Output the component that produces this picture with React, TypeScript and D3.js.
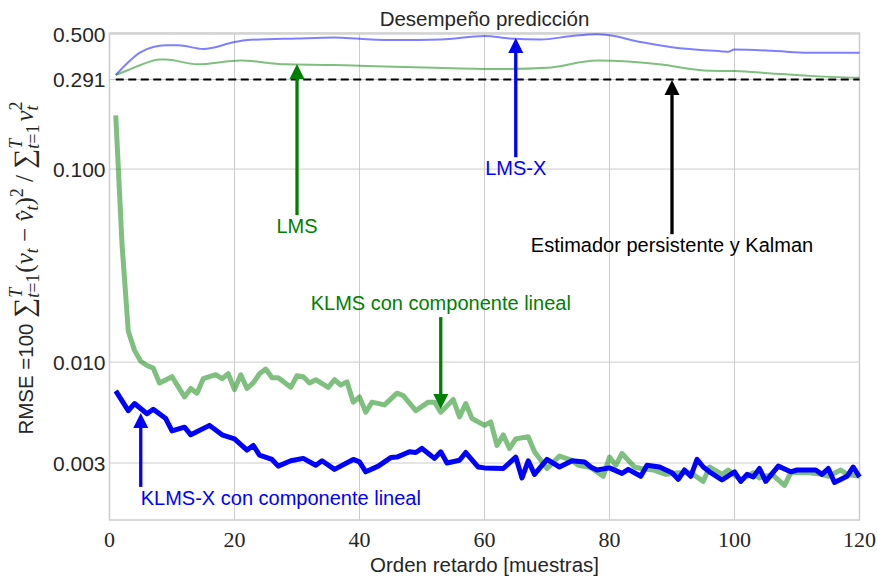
import React from "react";
import * as d3 from "d3";

const X_TICKS = [0, 20, 40, 60, 80, 100, 120];
const Y_TICKS = [0.003, 0.01, 0.1, 0.291, 0.5];
const Y_TICK_LABELS = ["0.003", "0.010", "0.100", "0.291", "0.500"];

const BASELINE = 0.291;

const LMSX_X = [1, 3, 5, 9, 11, 15, 20, 22, 30, 36, 40, 46, 53, 60, 64, 69, 74, 78, 80, 85, 90, 98, 99, 100, 106, 112, 120];
const LMSX_V = [0.307, 0.358, 0.404, 0.438, 0.438, 0.419, 0.455, 0.466, 0.475, 0.48, 0.473, 0.466, 0.469, 0.489, 0.475, 0.469, 0.489, 0.499, 0.493, 0.455, 0.428, 0.407, 0.405, 0.416, 0.41, 0.4, 0.4];

const LMS_X = [1, 3, 5, 8, 9, 14, 21, 28, 36, 41, 52, 63, 70, 78, 83, 88, 96, 100, 106, 112, 120];
const LMS_V = [0.307, 0.326, 0.346, 0.37, 0.37, 0.349, 0.365, 0.349, 0.346, 0.342, 0.335, 0.33, 0.335, 0.365, 0.361, 0.349, 0.323, 0.322, 0.313, 0.304, 0.297];

const KLMS_X = [1, 2, 3, 4, 5, 6, 7, 8, 10, 12, 13, 14, 15, 17, 18, 19, 20, 21, 22, 23, 24, 25, 26, 27, 29, 30, 31, 32, 33, 35, 36, 37, 38, 39, 40, 41, 42, 44, 46, 47, 49, 51, 52, 53, 55, 56, 57, 58, 60, 61, 62, 63, 64, 65, 67, 68, 70, 72, 74, 75, 77, 79, 80, 81, 82, 84, 85, 87, 89, 91, 93, 95, 96, 98, 99, 101, 103, 104, 106, 108, 109, 112, 114, 115, 117, 118, 120];
const KLMS_V = [0.19, 0.041, 0.0145, 0.0115, 0.0101, 0.0096, 0.0093, 0.0078, 0.0084, 0.0066, 0.0073, 0.0069, 0.0082, 0.0086, 0.0082, 0.0087, 0.0072, 0.0086, 0.0073, 0.0078, 0.0087, 0.0092, 0.0083, 0.0083, 0.0074, 0.0085, 0.0084, 0.0078, 0.0081, 0.0074, 0.0081, 0.0076, 0.0079, 0.0062, 0.0066, 0.0055, 0.0062, 0.006, 0.0069, 0.0067, 0.0056, 0.0062, 0.0062, 0.0055, 0.0064, 0.0052, 0.0061, 0.0051, 0.0047, 0.0049, 0.0037, 0.0042, 0.00357, 0.004, 0.0041, 0.00343, 0.00281, 0.00326, 0.0031, 0.00292, 0.00284, 0.00256, 0.00322, 0.00292, 0.00336, 0.00286, 0.00281, 0.00276, 0.00262, 0.00267, 0.00267, 0.00241, 0.00286, 0.00262, 0.00276, 0.00245, 0.00267, 0.00251, 0.00262, 0.0023, 0.00267, 0.00267, 0.00262, 0.00256, 0.00276, 0.00262, 0.00256];

const KLMSX_X = [1, 3, 4, 6, 7, 9, 10, 12, 13, 16, 18, 20, 22, 23, 24, 26, 27, 29, 31, 33, 34, 36, 39, 40, 41, 43, 45, 46, 48, 49, 50, 52, 53, 54, 56, 57, 59, 60, 63, 65, 66, 67, 68, 70, 72, 74, 76, 77, 78, 80, 82, 83, 85, 86, 88, 90, 91, 92, 93, 94, 95, 96, 98, 100, 101, 102, 103, 104, 105, 107, 109, 110, 113, 114, 115, 116, 118, 119, 120];
const KLMSX_V = [0.0071, 0.0056, 0.0061, 0.0054, 0.0057, 0.0051, 0.0044, 0.0046, 0.0042, 0.0047, 0.0042, 0.004, 0.0035, 0.0037, 0.0033, 0.00313, 0.00289, 0.00308, 0.00317, 0.00292, 0.00308, 0.00278, 0.00313, 0.00304, 0.0027, 0.00289, 0.0032, 0.00322, 0.00343, 0.0034, 0.00357, 0.00317, 0.00343, 0.003, 0.0031, 0.0034, 0.00286, 0.00283, 0.00281, 0.00322, 0.00251, 0.00308, 0.00262, 0.00313, 0.00286, 0.00308, 0.00304, 0.00286, 0.00276, 0.00283, 0.00265, 0.00278, 0.00256, 0.00292, 0.00286, 0.00267, 0.00247, 0.00276, 0.00256, 0.00313, 0.00286, 0.0027, 0.00245, 0.0027, 0.00241, 0.00262, 0.00254, 0.00281, 0.00241, 0.00289, 0.0027, 0.00276, 0.00276, 0.00262, 0.00281, 0.00238, 0.00256, 0.00286, 0.00254];

const ANNOTATIONS = [
  { label: "LMS", color: "#008000", tipX: 30, tipV: 0.35, textX: 30, textV: 0.0466, dir: "up", anchor: "middle" },
  { label: "LMS-X", color: "#0000ff", tipX: 65, tipV: 0.477, textX: 65, textV: 0.093, dir: "up", anchor: "middle" },
  { label: "Estimador persistente y Kalman", color: "#000000", tipX: 90, tipV: 0.289, textX: 90, textV: 0.0371, dir: "up", anchor: "middle" },
  { label: "KLMS con componente lineal", color: "#008000", tipX: 53, tipV: 0.00571, textX: 53, textV: 0.0186, dir: "down", anchor: "middle" },
  { label: "KLMS-X con componente lineal", color: "#0000ff", tipX: 5, tipV: 0.00545, textX: 5, textV: 0.00182, dir: "up", anchor: "start" },
];

const W = 877;
const H = 579;
const L = 109.5;
const R = 859.5;
const T = 33;
const B = 520;

const SANS = "'Liberation Sans', Arial, sans-serif";
const SERIF = "'Liberation Serif', 'Times New Roman', serif";
const TXT = "#262626";

export default function App() {
  const x = d3.scaleLinear().domain([0, 120]).range([L, R]);
  const y = d3.scaleLog().domain([0.00152, 0.507]).range([B, T]);

  const mkLine = (xs: number[], vs: number[], curve: any) =>
    d3
      .line<number>()
      .x((_, i) => x(xs[i]))
      .y((v) => y(v))
      .curve(curve)(vs) as string;

  const pLMSX = mkLine(LMSX_X, LMSX_V, d3.curveMonotoneX);
  const pLMS = mkLine(LMS_X, LMS_V, d3.curveMonotoneX);
  const pKLMS = mkLine(KLMS_X, KLMS_V, d3.curveLinear);
  const pKLMSX = mkLine(KLMSX_X, KLMSX_V, d3.curveLinear);

  const headLen = 15;
  const headHalf = 7.5;

  const SUB = 18;
  const LIM_W = 24.2; // width of "t=1" at SUB size
  const T_W = 10; // width of italic "T" at SUB size

  return (
    <svg
      width={W}
      height={H}
      style={{ position: "absolute", left: 0, top: 0, background: "#fff" }}
    >
      <rect x={0} y={0} width={W} height={H} fill="#fff" />
      {/* grid */}
      {X_TICKS.map((t) => (
        <line key={"gx" + t} x1={x(t)} x2={x(t)} y1={T} y2={B} stroke="#cccccc" strokeWidth={1} />
      ))}
      {Y_TICKS.map((t) => (
        <line key={"gy" + t} x1={L} x2={R} y1={y(t)} y2={y(t)} stroke="#cccccc" strokeWidth={1} />
      ))}
      {/* spines */}
      <rect x={L} y={T} width={R - L} height={B - T} fill="none" stroke="#cccccc" strokeWidth={1.5} />

      {/* thin lines */}
      <path d={pLMSX} fill="none" stroke="#0000ff" strokeOpacity={0.5} strokeWidth={2} />
      <path d={pLMS} fill="none" stroke="#008000" strokeOpacity={0.5} strokeWidth={2} />
      <line
        x1={x(1)}
        x2={x(120)}
        y1={y(BASELINE)}
        y2={y(BASELINE)}
        stroke="#000"
        strokeWidth={2}
        strokeDasharray="8 4.5"
      />
      {/* thick lines */}
      <path d={pKLMS} fill="none" stroke="#008000" strokeOpacity={0.5} strokeWidth={5} strokeLinejoin="round" />
      <path d={pKLMSX} fill="none" stroke="#0000ff" strokeWidth={5} strokeLinejoin="round" />

      {/* annotations */}
      {ANNOTATIONS.map((a) => {
        const tx = x(a.tipX);
        const ty = y(a.tipV);
        const lx = x(a.textX);
        const ly = y(a.textV);
        const up = a.dir === "up";
        const shaftEnd = up ? ly - 18 : ly + 7;
        const s = up ? 1 : -1;
        const head = `${tx},${ty} ${tx - headHalf},${ty + s * headLen} ${tx + headHalf},${ty + s * headLen}`;
        return (
          <g key={a.label}>
            <line x1={tx} x2={tx} y1={ty + s * (headLen - 1)} y2={shaftEnd} stroke={a.color} strokeWidth={3.3} />
            <polygon points={head} fill={a.color} />
            <text x={lx} y={ly} fill={a.color} fontFamily={SANS} fontSize={20} textAnchor={a.anchor}>
              {a.label}
            </text>
          </g>
        );
      })}

      {/* y tick labels */}
      {Y_TICKS.map((t, i) => (
        <text
          key={"yl" + t}
          x={L - 4}
          y={y(t) + 7.5}
          textAnchor="end"
          fontFamily={SANS}
          fontSize={21}
          fill={TXT}
        >
          {Y_TICK_LABELS[i]}
        </text>
      ))}
      {/* x tick labels */}
      {X_TICKS.map((t) => (
        <text
          key={"xl" + t}
          x={x(t)}
          y={547}
          textAnchor="middle"
          fontFamily={SERIF}
          fontSize={22}
          fill={TXT}
        >
          {t}
        </text>
      ))}

      {/* title */}
      <text x={(L + R) / 2} y={26} textAnchor="middle" fontFamily={SANS} fontSize={20.5} fill={TXT}>
        Desempeño predicción
      </text>
      {/* x label */}
      <text x={(L + R) / 2} y={572} textAnchor="middle" fontFamily={SANS} fontSize={20.5} fill={TXT}>
        Orden retardo [muestras]
      </text>

      {/* y label */}
      <text
        transform="translate(33,268) rotate(-90)"
        textAnchor="middle"
        fontSize={25}
        fill={TXT}
        fontFamily={SERIF}
      >
        <tspan fontFamily={SANS} fontSize={20.5}>RMSE =100 </tspan>
        <tspan fontSize={28}>∑</tspan>
        <tspan fontSize={SUB} dy={6} fontStyle="italic">t</tspan>
        <tspan fontSize={SUB}>=1</tspan>
        <tspan fontSize={SUB} dx={-LIM_W} dy={-17} fontStyle="italic">T</tspan>
        <tspan dx={LIM_W - T_W + 1} dy={11}>(</tspan>
        <tspan fontStyle="italic">v</tspan>
        <tspan fontSize={SUB} dy={5} fontStyle="italic">t</tspan>
        <tspan dy={-5}> − </tspan>
        <tspan fontStyle="italic">v̂</tspan>
        <tspan fontSize={SUB} dy={5} fontStyle="italic">t</tspan>
        <tspan dy={-5}>)</tspan>
        <tspan fontSize={SUB} dy={-10}>2</tspan>
        <tspan dy={10}> / </tspan>
        <tspan fontSize={28}>∑</tspan>
        <tspan fontSize={SUB} dy={6} fontStyle="italic">t</tspan>
        <tspan fontSize={SUB}>=1</tspan>
        <tspan fontSize={SUB} dx={-LIM_W} dy={-17} fontStyle="italic">T</tspan>
        <tspan dx={LIM_W - T_W + 3} dy={11} fontStyle="italic">v</tspan>
        <tspan fontSize={SUB} dy={5} fontStyle="italic">t</tspan>
        <tspan fontSize={SUB} dx={-5} dy={-16}>2</tspan>
      </text>
    </svg>
  );
}
